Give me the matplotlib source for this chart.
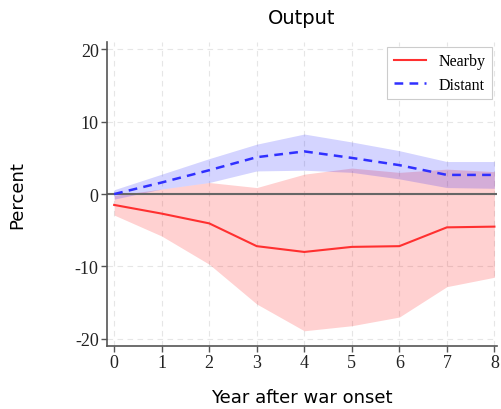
import numpy as np
import matplotlib
matplotlib.use("Agg")
import matplotlib.pyplot as plt

plt.rcParams["axes.unicode_minus"] = False

years = [0, 1, 2, 3, 4, 5, 6, 7, 8]

# Nearby: point estimate and band
nearby = [-1.5, -2.7, -4.05, -7.2, -8.0, -7.3, -7.2, -4.6, -4.5]
nearby_lo = [-2.9, -5.8, -9.7, -15.2, -18.9, -18.2, -17.0, -12.8, -11.5]
nearby_hi = [-0.2, 0.7, 1.6, 0.9, 2.75, 3.6, 3.0, 3.45, 3.1]

# Distant: point estimate and band
distant = [0.0, 1.6, 3.3, 5.1, 5.9, 5.0, 4.0, 2.65, 2.65]
distant_lo = [-0.7, 0.7, 1.6, 3.2, 3.3, 3.0, 2.1, 0.9, 0.8]
distant_hi = [0.6, 2.75, 4.9, 6.9, 8.3, 7.2, 6.0, 4.5, 4.5]

yticks = [-20, -10, 0, 10, 20]

fig = plt.figure(figsize=(5.01, 4.10), dpi=100)
ax = fig.add_axes([0.2136, 0.1537, 0.778, 0.741])

serif = ["Liberation Serif", "DejaVu Serif"]

ax.fill_between(years, nearby_lo, nearby_hi, color="#ff0000", alpha=0.18, linewidth=0)
ax.fill_between(years, distant_lo, distant_hi, color="#0000ff", alpha=0.17, linewidth=0)
ax.axhline(0, color="#666666", linewidth=1.5, zorder=1)
ax.plot(years, nearby, color="#ff3030", linewidth=1.5, label="Nearby")
ax.plot(years, distant, color="#3030ff", linewidth=1.8, linestyle=(0, (3.5, 2.5)), label="Distant")

ax.set_xlim(-0.15, 8.05)
ax.set_ylim(-21, 21)
ax.set_xticks(years)
ax.set_yticks(yticks)
ax.grid(True, color="#e6e6e6", linestyle=(0, (5, 4)), linewidth=0.8)
ax.set_axisbelow(True)

for s in ["top", "right"]:
    ax.spines[s].set_visible(False)
for s in ["left", "bottom"]:
    ax.spines[s].set_color("#555555")
    ax.spines[s].set_linewidth(1.2)

ax.tick_params(colors="#555555", length=4, width=1, labelcolor="#222222", pad=2)
for lab in ax.get_xticklabels() + ax.get_yticklabels():
    lab.set_family(serif)
    lab.set_fontsize(13)

ax.set_title("Output", fontsize=14, family="DejaVu Sans", pad=14)
ax.set_xlabel("Year after war onset", fontsize=13, family="DejaVu Sans", labelpad=12)
ax.set_ylabel("Percent", fontsize=13, family="DejaVu Sans", labelpad=35)

leg = ax.legend(loc="upper right", prop={"family": serif, "size": 11.5},
                fancybox=False, edgecolor="#cccccc", framealpha=1,
                handlelength=2.0, borderaxespad=0.3, labelspacing=0.45)
leg.get_frame().set_linewidth(0.8)

fig.savefig("out.png", dpi=100)
